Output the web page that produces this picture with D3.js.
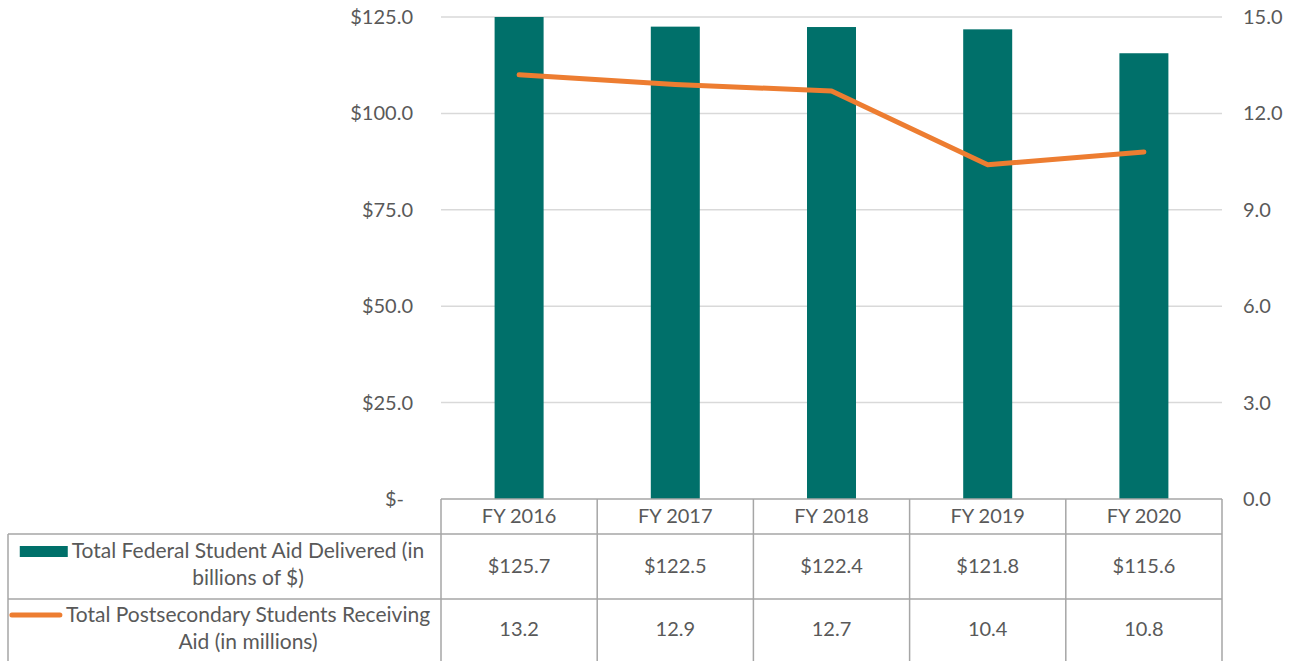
<!DOCTYPE html>
<html>
<head>
<meta charset="utf-8">
<script src="https://cdn.jsdelivr.net/npm/d3@7"></script>
<style>
  body { margin: 0; background: #fff; }
  svg { display: block; font-family: Lato, "Open Sans", sans-serif; }
</style>
</head>
<body>
<svg id="chart" width="1294" height="661"></svg>
<script>
// data
const years = ['FY 2016', 'FY 2017', 'FY 2018', 'FY 2019', 'FY 2020'];
const aidBillions = [125.7, 122.5, 122.4, 121.8, 115.6];
const studentsMillions = [13.2, 12.9, 12.7, 10.4, 10.8];
const leftTicks = [0, 25, 50, 75, 100, 125];
const rightTicks = [0, 3, 6, 9, 12, 15];
const seriesNames = [
  ['Total Federal Student Aid Delivered (in', 'billions of $)'],
  ['Total Postsecondary Students Receiving', 'Aid (in millions)']
];

const TEAL = '#00706A', ORANGE = '#ED7D31', TXT = '#595959', GRID = '#d9d9d9', BORDER = '#a6a6a6';
const L = 441, R = 1222, T = 17, B = 499;
const rowY = [499, 534, 599, 664];
const legendLeft = 8;

const svg = d3.select('#chart');
const x = d3.scaleBand().domain(years).range([L, R]).paddingInner(0).paddingOuter(0);
const yL = d3.scaleLinear().domain([0, 125]).range([B, T]).clamp(true);
const yR = d3.scaleLinear().domain([0, 15]).range([B, T]);

// gridlines
svg.append('g').selectAll('line').data(leftTicks.filter(d => d > 0)).join('line')
  .attr('x1', L).attr('x2', R).attr('y1', d => yL(d)).attr('y2', d => yL(d))
  .attr('stroke', GRID).attr('stroke-width', 1.5);

// left axis labels
svg.append('g').selectAll('text').data(leftTicks).join('text')
  .attr('x', d => d === 0 ? 404 : 413).attr('y', d => yL(d)).attr('dy', '0.35em')
  .attr('text-anchor', 'end').attr('fill', TXT).attr('font-size', 20)
  .text(d => d === 0 ? '$-' : '$' + d.toFixed(1));

// right axis labels
svg.append('g').selectAll('text').data(rightTicks).join('text')
  .attr('x', 1243).attr('y', d => yR(d)).attr('dy', '0.35em')
  .attr('text-anchor', 'start').attr('fill', TXT).attr('font-size', 20)
  .text(d => d.toFixed(1));

// bars
const bw = 49;
svg.append('g').selectAll('rect').data(aidBillions).join('rect')
  .attr('x', (d, i) => x(years[i]) + x.bandwidth() / 2 - bw / 2)
  .attr('width', bw)
  .attr('y', d => yL(d)).attr('height', d => yL(0) - yL(d))
  .attr('fill', TEAL);

// line
const line = d3.line().x((d, i) => x(years[i]) + x.bandwidth() / 2).y(d => yR(d));
svg.append('path').datum(studentsMillions).attr('d', line)
  .attr('fill', 'none').attr('stroke', ORANGE).attr('stroke-width', 5)
  .attr('stroke-linecap', 'round').attr('stroke-linejoin', 'round');

// data table
const tbl = svg.append('g').attr('stroke', BORDER).attr('stroke-width', 1.5);
tbl.append('line').attr('x1', L).attr('x2', R).attr('y1', rowY[0]).attr('y2', rowY[0]);
tbl.append('line').attr('x1', legendLeft).attr('x2', R).attr('y1', rowY[1]).attr('y2', rowY[1]);
tbl.append('line').attr('x1', legendLeft).attr('x2', R).attr('y1', rowY[2]).attr('y2', rowY[2]);
tbl.append('line').attr('x1', legendLeft).attr('x2', legendLeft).attr('y1', rowY[1]).attr('y2', rowY[3]);
const cols = years.map(y => x(y)).concat([R]);
tbl.selectAll('line.col').data(cols).join('line').attr('class', 'col')
  .attr('x1', d => d).attr('x2', d => d).attr('y1', rowY[0]).attr('y2', rowY[3]);

const cellText = (vals, fmt, cy) => svg.append('g').selectAll('text').data(vals).join('text')
  .attr('x', (d, i) => x(years[i]) + x.bandwidth() / 2).attr('y', cy).attr('dy', '0.35em')
  .attr('text-anchor', 'middle').attr('fill', TXT).attr('font-size', 20).text(fmt);
cellText(years, d => d, 516);
cellText(aidBillions, d => '$' + d.toFixed(1), 566);
cellText(studentsMillions, d => d.toFixed(1), 629);

// legend cells
const legendY = [[551, 578], [615, 642]];
seriesNames.forEach((lines, k) => {
  const t = svg.append('text').attr('fill', TXT).attr('font-size', 21).attr('text-anchor', 'middle');
  const first = t.append('tspan').attr('x', 248).attr('y', legendY[k][0]).attr('dy', '0.35em').text(lines[0]);
  t.append('tspan').attr('x', 248).attr('y', legendY[k][1]).attr('dy', '0.35em').text(lines[1]);
  const w = first.node().getComputedTextLength();
  const sx = 248 - w / 2 - 4;
  if (k === 0) {
    svg.append('rect').attr('x', sx - 48).attr('y', legendY[k][0] - 5).attr('width', 48).attr('height', 11).attr('fill', TEAL);
  } else {
    svg.append('line').attr('x1', sx - 50).attr('x2', sx - 2).attr('y1', legendY[k][0]).attr('y2', legendY[k][0])
      .attr('stroke', ORANGE).attr('stroke-width', 5).attr('stroke-linecap', 'round');
  }
});
</script>
</body>
</html>
